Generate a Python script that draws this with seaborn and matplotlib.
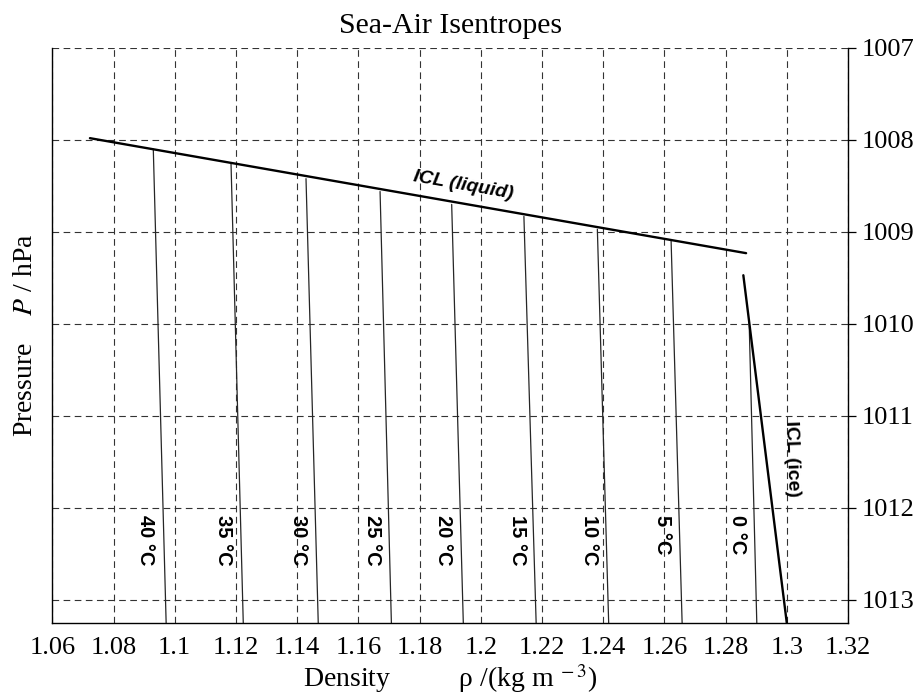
import numpy as np
import pandas as pd
import matplotlib
matplotlib.use("Agg")
import matplotlib.pyplot as plt
import seaborn as sns

# ---------------- data ----------------
temps = [40, 35, 30, 25, 20, 15, 10, 5, 0]
rho_top = [1.0930, 1.1184, 1.1429, 1.1671, 1.1905, 1.2141, 1.2381, 1.2622, 1.2877]
p_top = [1008.10, 1008.26, 1008.42, 1008.56, 1008.70, 1008.83, 1008.97, 1009.10, 1009.98]
rho_bottom = [1.0972, 1.1224, 1.1469, 1.1708, 1.1943, 1.2181, 1.2418, 1.2658, 1.2902]
p_bottom = 1013.25

icl_liquid_rho = [1.0723, 1.2867]
icl_liquid_p = [1007.98, 1009.23]
icl_ice_rho = [1.2858, 1.3000]
icl_ice_p = [1009.47, 1013.25]

label_rho = [1.0903, 1.1158, 1.1406, 1.1645, 1.1877, 1.2119, 1.2354, 1.2593, 1.2838]
label_p = 1012.08
temp_labels = [f"{t} °C" for t in temps]

x_ticks = [1.06, 1.08, 1.10, 1.12, 1.14, 1.16, 1.18, 1.20, 1.22, 1.24, 1.26, 1.28, 1.30, 1.32]
x_tick_labels = ["1.06", "1.08", "1.1", "1.12", "1.14", "1.16", "1.18", "1.2",
                 "1.22", "1.24", "1.26", "1.28", "1.3", "1.32"]
y_ticks = [1007, 1008, 1009, 1010, 1011, 1012, 1013]
y_tick_labels = ["1007", "1008", "1009", "1010", "1011", "1012", "1013"]

# ---------------- style ----------------
sns.set_style("white")
plt.rcParams["font.family"] = ["Liberation Serif", "DejaVu Serif"]
plt.rcParams["mathtext.fontset"] = "stix"
plt.rcParams["text.color"] = "black"
plt.rcParams["axes.labelcolor"] = "black"
plt.rcParams["xtick.color"] = "black"
plt.rcParams["ytick.color"] = "black"

fig = plt.figure(figsize=(9.18, 6.99), dpi=100)
ax = fig.add_axes([52.3 / 918, 1 - 623 / 699, (848 - 52.3) / 918, (623 - 48) / 699])

# isentropes
rows = []
for t, rt, pt, rb in zip(temps, rho_top, p_top, rho_bottom):
    rows.append({"T": t, "rho": rt, "P": pt})
    rows.append({"T": t, "rho": rb, "P": p_bottom})
df_iso = pd.DataFrame(rows)
sns.lineplot(data=df_iso, x="rho", y="P", units="T", estimator=None, sort=False,
             color="#262626", lw=0.9, ax=ax, legend=False)

df_liq = pd.DataFrame({"rho": icl_liquid_rho, "P": icl_liquid_p})
sns.lineplot(data=df_liq, x="rho", y="P", sort=False, color="black", lw=1.7, ax=ax)
df_ice = pd.DataFrame({"rho": icl_ice_rho, "P": icl_ice_p})
sns.lineplot(data=df_ice, x="rho", y="P", sort=False, color="black", lw=1.7, ax=ax)

# labels
lab_font = ["Liberation Sans", "DejaVu Sans"]
for x, s in zip(label_rho, temp_labels):
    ax.text(x, label_p, s, rotation=-90, ha="center", va="top", color="black",
            fontsize=14.5, fontweight="bold", family=lab_font)
ax.text(1.1942, 1008.49, "ICL (liquid)", rotation=-10, rotation_mode="anchor",
        ha="center", va="center", fontsize=14, fontweight="bold", fontstyle="italic",
        family=lab_font, color="black")
ax.text(1.3017, 1011.46, "ICL (ice)", rotation=-88, rotation_mode="anchor",
        ha="center", va="center", fontsize=14, fontweight="bold", family=lab_font,
        color="black")

# axes
ax.set_xlim(1.06, 1.32)
ax.set_ylim(1013.25, 1007)
ax.set_xticks(x_ticks)
ax.set_xticklabels(x_tick_labels)
ax.set_yticks(y_ticks)
ax.set_yticklabels(y_tick_labels)
ax.yaxis.tick_right()
ax.yaxis.set_label_position("left")
ax.tick_params(axis="both", direction="out", length=6, width=0.9, color="black",
               labelcolor="black", labelsize=19, pad=4)
ax.grid(True, color="#333333", linestyle=(0, (6, 4)), lw=0.8)
for side in ["left", "right", "bottom"]:
    ax.spines[side].set_visible(True)
    ax.spines[side].set_color("black")
    ax.spines[side].set_linewidth(1.0)
ax.spines["top"].set_visible(False)

ax.set_title("Sea-Air Isentropes", fontsize=21.5, pad=11, color="black")
ax.set_xlabel(r"Density          ρ /(kg m$^{\ -3}$)", fontsize=20, labelpad=2)
ax.set_ylabel(r"Pressure    $\mathit{P}$ / hPa", fontsize=20, labelpad=10)

fig.savefig("out.png", dpi=100)
